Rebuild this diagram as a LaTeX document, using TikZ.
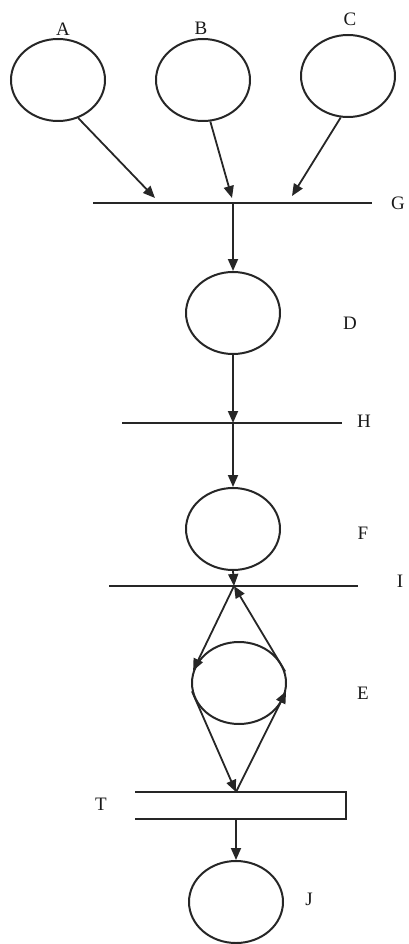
\documentclass[tikz,border=0pt]{standalone}
\usepackage{fontspec}
\setmainfont{Liberation Serif}
\usetikzlibrary{shapes.geometric,arrows.meta}
\begin{document}
\begin{tikzpicture}[x=1pt,y=-1pt,
  place/.style={ellipse,draw=black!85,line width=2pt,minimum width=94pt,minimum height=82pt,inner sep=0pt},
  bar/.style={draw=black!85,line width=2pt},
  lab/.style={font=\fontsize{19}{19}\selectfont,text=black!90},
  arr/.style={draw=black!85,line width=1.8pt,-{Triangle[length=12pt,width=10pt]}}]
\useasboundingbox (0,0) rectangle (409,944);
% places
\node[place] (A) at (58,80) {};
\node[place] (B) at (203,80) {};
\node[place] (C) at (348,76) {};
\node[place] (D) at (233,313) {};
\node[place] (F) at (233,529) {};
\node[place] (E) at (239,683) {};
\node[place] (J) at (236,902) {};
% labels
\node[lab] (lA) at (63,29) {A};
\node[lab] (lB) at (201,28) {B};
\node[lab] (lC) at (350,19) {C};
\node[lab] (lG) at (398,203) {G};
\node[lab] (lD) at (350,323) {D};
\node[lab] (lH) at (364,421) {H};
\node[lab] (lF) at (363,533) {F};
\node[lab] (lI) at (400,581) {I};
\node[lab] (lE) at (363,693) {E};
\node[lab] (lT) at (101,804) {T};
\node[lab] (lJ) at (309,899) {J};
% transitions
\coordinate (G1) at (93,203); \coordinate (G2) at (372,203); \coordinate (Gc) at (233,203);
\coordinate (Ga) at (155,198); \coordinate (Gb) at (232,198); \coordinate (Gcc) at (292,196);
\draw[bar] (G1) -- (G2);
\coordinate (H1) at (122,423); \coordinate (H2) at (342,423); \coordinate (Hc) at (233,423);
\draw[bar] (H1) -- (H2);
\coordinate (I1) at (109,586); \coordinate (I2) at (358,586); \coordinate (Ic) at (234,586);
\draw[bar] (I1) -- (I2);
\coordinate (T1) at (135,792); \coordinate (T2) at (346,792); \coordinate (T3) at (346,819); \coordinate (T4) at (135,819);
\coordinate (Tt) at (236,792); \coordinate (Tb) at (236,819);
\draw[bar] (T1) -- (T2) -- (T3) -- (T4);
% arcs
\draw[arr] (A.-62) -- (Ga);
\draw[arr] (B.-80) -- (Gb);
\draw[arr] (C.-100) -- (Gcc);
\draw[arr] (Gc) -- (D.north);
\draw[arr] (D.south) -- (Hc);
\draw[arr] (Hc) -- (F.north);
\draw[arr] (F.south) -- (Ic);
\draw[arr] (Ic) -- (E.165);
\draw[arr] (E.14) -- (Ic);
\draw[arr] (E.190) -- (Tt);
\draw[arr] (Tt) -- (E.350);
\draw[arr] (Tb) -- (J.north);
\end{tikzpicture}
\end{document}
